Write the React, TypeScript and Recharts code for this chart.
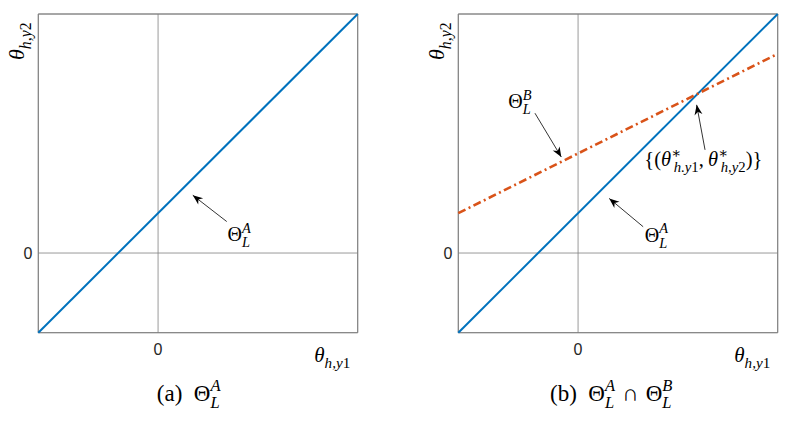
import React from 'react';
import {
  LineChart,
  Line,
  XAxis,
  YAxis,
  CartesianGrid,
  ReferenceArea,
  ReferenceLine,
  ReferenceDot,
} from 'recharts';

// ---------- data ----------
const X_DOMAIN: [number, number] = [-3, 5];
const Y_DOMAIN: [number, number] = [-2, 6];
const X_TICKS = [0];
const Y_TICKS = [0];

// Θ_L^A : straight line through the plot corners
const lineA_x = [-3, 5];
const lineA_y = [-2, 6];
// Θ_L^B : flatter dash-dot line
const lineB_x = [-3, 5];
const lineB_y = [1, 5];

// annotations (data coordinates)
const aLabelA = [1.74, 0.3];
const aArrowA = [
  [1.72, 0.79],
  [0.87, 1.45],
];
const bLabelB = [-1.75, 3.64];
const bArrowB = [
  [-1.08, 3.51],
  [-0.42, 2.41],
];
const bLabelA = [1.67, 0.28];
const bArrowA = [
  [1.63, 0.66],
  [0.78, 1.37],
];
const bLabelX = [1.66, 2.18];
const bArrowX = [
  [3.18, 2.59],
  [2.97, 3.72],
];

const seriesA = lineA_x.map((x, i) => ({ x, y: lineA_y[i] }));
const seriesB = lineB_x.map((x, i) => ({ x, y: lineB_y[i] }));

// ---------- styling ----------
const BLUE = '#0072BD';
const ORANGE = '#D95319';
const SERIF = '"Liberation Serif", "DejaVu Serif", serif';
const SANS = '"Liberation Sans", Arial, sans-serif';

type Piece = { t: string; it?: boolean; pos?: 'b' | 'sup' | 'sub'; dx?: number };

function MathText({
  x,
  y,
  pieces,
  size,
  anchor = 'start',
  transform,
}: {
  x: number;
  y: number;
  pieces: Piece[];
  size: number;
  anchor?: 'start' | 'middle' | 'end';
  transform?: string;
}) {
  let cur = 0;
  const small = size * 0.72;
  return (
    <text
      x={x}
      y={y}
      textAnchor={anchor}
      style={{ fontFamily: SERIF, fontSize: size }}
      fill="#000"
      transform={transform}
    >
      {pieces.map((p, i) => {
        const target = p.pos === 'sup' ? -size * 0.42 : p.pos === 'sub' ? size * 0.3 : 0;
        const dy = target - cur;
        cur = target;
        const fs = p.pos === 'sup' || p.pos === 'sub' ? small : size;
        return (
          <tspan
            key={i}
            dy={dy}
            dx={(p.dx ?? 0) * size}
            style={{ fontStyle: p.it ? 'italic' : 'normal', fontSize: fs, fontFamily: SERIF }}
          >
            {p.t}
          </tspan>
        );
      })}
    </text>
  );
}

// dx values are in em of the base size
const THETA_LA: Piece[] = [
  { t: 'Θ' },
  { t: 'A', it: true, pos: 'sup' },
  { t: 'L', it: true, pos: 'sub', dx: -0.44 },
];
const THETA_LB: Piece[] = [
  { t: 'Θ' },
  { t: 'B', it: true, pos: 'sup' },
  { t: 'L', it: true, pos: 'sub', dx: -0.44 },
];
const STAR: Piece[] = [
  { t: '{(' },
  { t: 'θ', it: true },
  { t: '∗', pos: 'sup' },
  { t: 'h.y', it: true, pos: 'sub', dx: -0.36 },
  { t: '1', pos: 'sub' },
  { t: ',' },
  { t: 'θ', it: true, dx: 0.2 },
  { t: '∗', pos: 'sup' },
  { t: 'h,y', it: true, pos: 'sub', dx: -0.36 },
  { t: '2', pos: 'sub' },
  { t: ')}' },
];
const XLABEL: Piece[] = [
  { t: 'θ', it: true },
  { t: 'h,y', it: true, pos: 'sub' },
  { t: '1', pos: 'sub' },
];
const YLABEL: Piece[] = [
  { t: 'θ', it: true },
  { t: 'h,y', it: true, pos: 'sub' },
  { t: '2', pos: 'sub' },
];
const CAP_A: Piece[] = [
  { t: '(a)' },
  { t: 'Θ', dx: 0.5 },
  { t: 'A', it: true, pos: 'sup' },
  { t: 'L', it: true, pos: 'sub', dx: -0.44 },
];
const CAP_B: Piece[] = [
  { t: '(b)' },
  { t: 'Θ', dx: 0.5 },
  { t: 'A', it: true, pos: 'sup' },
  { t: 'L', it: true, pos: 'sub', dx: -0.44 },
  { t: '∩', pos: 'b', dx: 0.35 },
  { t: 'Θ', dx: 0.3 },
  { t: 'B', it: true, pos: 'sup' },
  { t: 'L', it: true, pos: 'sub', dx: -0.44 },
];

function arrow(key: string, pts: number[][]) {
  const [from, to] = pts;
  const ang = (Math.atan2(-(to[1] - from[1]), to[0] - from[0]) * 180) / Math.PI;
  return [
    <ReferenceLine
      key={key + '-l'}
      segment={[
        { x: from[0], y: from[1] },
        { x: to[0], y: to[1] },
      ]}
      stroke="#000"
      strokeWidth={0.8}
    />,
    <ReferenceDot
      key={key + '-h'}
      x={to[0]}
      y={to[1]}
      r={1}
      shape={(p: any) => (
        <polygon
          points="0,0 -10,-4 -7,0 -10,4"
          fill="#000"
          transform={`translate(${p.cx},${p.cy}) rotate(${ang})`}
        />
      )}
    />,
  ];
}

function label(key: string, pos: number[], pieces: Piece[], size: number) {
  return (
    <ReferenceDot
      key={key}
      x={pos[0]}
      y={pos[1]}
      r={1}
      shape={(p: any) => <MathText x={p.cx} y={p.cy} pieces={pieces} size={size} />}
    />
  );
}

const W = 369;
const H = 422;
const MARGIN = { top: 14, right: 11.3, left: 8.3, bottom: 0 };

function Panel({ which }: { which: 'a' | 'b' }) {
  const caption = which === 'a' ? CAP_A : CAP_B;
  return (
    <LineChart width={W} height={H} margin={MARGIN}>
      <CartesianGrid stroke="#808080" strokeWidth={0.8} />
      <XAxis
        type="number"
        dataKey="x"
        domain={X_DOMAIN}
        ticks={X_TICKS}
        axisLine={false}
        tickLine={false}
        height={89.3}
        tickMargin={5}
        tick={{ fontFamily: SANS, fontSize: 16, fill: '#262626' }}
        label={(props: any) => {
          const vb = props.viewBox || {};
          return (
            <g>
              <MathText
                x={vb.x + vb.width - 7.5}
                y={vb.y + 29}
                pieces={XLABEL}
                size={21}
                anchor="end"
              />
              <MathText
                x={vb.x + (which === 'a' ? 118.5 : 91.7)}
                y={vb.y + 68}
                pieces={caption}
                size={23}
              />
            </g>
          );
        }}
      />
      <YAxis
        type="number"
        domain={Y_DOMAIN}
        ticks={Y_TICKS}
        axisLine={false}
        tickLine={false}
        width={30}
        tickMargin={0}
        tick={{ fontFamily: SANS, fontSize: 16, fill: '#262626' }}
        label={(props: any) => {
          const vb = props.viewBox || {};
          const x = vb.x + 16;
          const y = vb.y + 46;
          return (
            <MathText
              x={x}
              y={y}
              pieces={YLABEL}
              size={22}
              transform={`rotate(-90, ${x}, ${y})`}
            />
          );
        }}
      />
      <ReferenceArea
        x1={X_DOMAIN[0]}
        x2={X_DOMAIN[1]}
        y1={Y_DOMAIN[0]}
        y2={Y_DOMAIN[1]}
        fill="none"
        fillOpacity={0}
        stroke="#808080"
        strokeWidth={1}
      />
      <Line
        data={seriesA}
        dataKey="y"
        type="linear"
        stroke={BLUE}
        strokeWidth={2}
        dot={false}
        isAnimationActive={false}
      />
      {which === 'b' && (
        <Line
          data={seriesB}
          dataKey="y"
          type="linear"
          stroke={ORANGE}
          strokeWidth={2.6}
          strokeDasharray="8 3.5 2 3.5"
          dot={false}
          isAnimationActive={false}
        />
      )}
      {which === 'a' && arrow('aA', aArrowA)}
      {which === 'a' && label('laA', aLabelA, THETA_LA, 20)}
      {which === 'b' && arrow('bB', bArrowB)}
      {which === 'b' && label('lbB', bLabelB, THETA_LB, 20)}
      {which === 'b' && arrow('bA', bArrowA)}
      {which === 'b' && label('lbA', bLabelA, THETA_LA, 20)}
      {which === 'b' && arrow('bX', bArrowX)}
      {which === 'b' && label('lbX', bLabelX, STAR, 20.5)}
    </LineChart>
  );
}

export default function App() {
  return (
    <div
      style={{
        position: 'absolute',
        left: 0,
        top: 0,
        width: 789,
        height: 422,
        background: '#fff',
        overflow: 'hidden',
      }}
    >
      <div style={{ position: 'absolute', left: 0, top: 0 }}>
        <Panel which="a" />
      </div>
      <div style={{ position: 'absolute', left: 420, top: 0 }}>
        <Panel which="b" />
      </div>
    </div>
  );
}
